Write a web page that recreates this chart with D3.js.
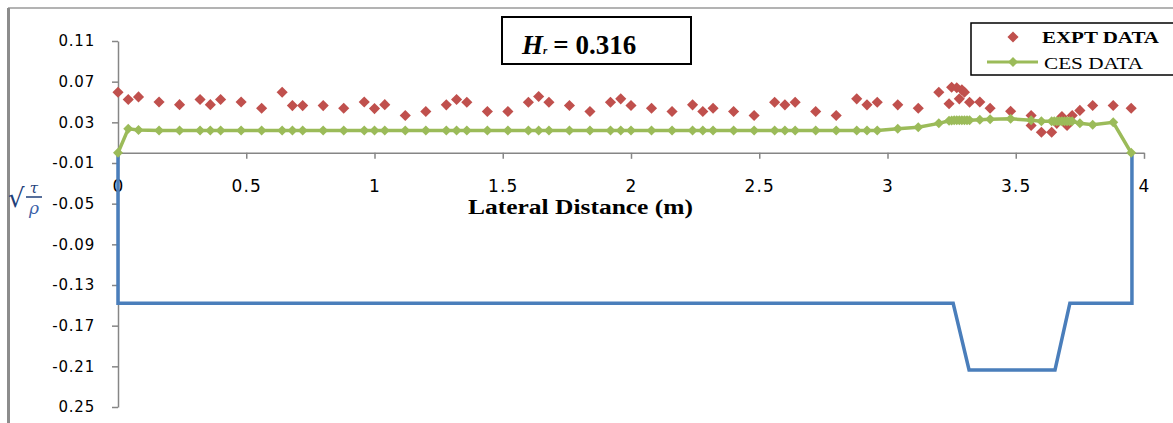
<!DOCTYPE html>
<html>
<head>
<meta charset="utf-8">
<script src="https://cdn.jsdelivr.net/npm/d3@7"></script>
<style>
  body { margin: 0; background: #fff; }
  .axis path, .axis line { stroke: #868686; stroke-width: 1.5px; }
  .axis text { fill: #000; font-family: "DejaVu Sans", sans-serif; }
</style>
</head>
<body>
<svg id="chart"></svg>
<script>
// experimental values (red diamonds)
var exptX = [0, 0.04, 0.08, 0.16, 0.24, 0.32, 0.36, 0.40, 0.48, 0.56, 0.64, 0.68, 0.72, 0.80, 0.88, 0.96, 1.00, 1.04,
  1.12, 1.20, 1.28, 1.32, 1.36, 1.44, 1.52, 1.60, 1.64, 1.68, 1.76, 1.84, 1.92, 1.96, 2.00, 2.08, 2.16, 2.24,
  2.28, 2.32, 2.40, 2.48, 2.56, 2.60, 2.64, 2.72, 2.80, 2.88, 2.92, 2.96, 3.04, 3.12, 3.20, 3.24, 3.25, 3.27,
  3.28, 3.29, 3.30, 3.32, 3.36, 3.40, 3.48, 3.56, 3.56, 3.60, 3.64, 3.66, 3.68, 3.70, 3.72, 3.75, 3.80, 3.88, 3.95];
var exptY = [0.0596, 0.0525, 0.055, 0.050, 0.0474, 0.0525, 0.0474, 0.0525, 0.050, 0.0439, 0.0596, 0.0465, 0.0465, 0.0465, 0.0439, 0.050, 0.0435, 0.0474,
  0.0367, 0.0406, 0.0472, 0.0525, 0.0498, 0.0406, 0.0406, 0.0498, 0.0554, 0.0498, 0.0466, 0.0406, 0.0498, 0.0531, 0.0466, 0.0439, 0.0406, 0.0472,
  0.0406, 0.0439, 0.0406, 0.0367, 0.0498, 0.0472, 0.0498, 0.0406, 0.0367, 0.0531, 0.0472, 0.0498, 0.0472, 0.0439, 0.0596, 0.0483, 0.0645, 0.064,
  0.0531, 0.062, 0.0596, 0.0498, 0.050, 0.0439, 0.0409, 0.0367, 0.0269, 0.0203, 0.0203, 0.029, 0.0357, 0.0269, 0.0367, 0.0417, 0.0466, 0.0466, 0.0439];

// CES model values (green line)
var cesX = [0, 0.04, 0.08, 0.16, 0.24, 0.32, 0.36, 0.40, 0.48, 0.56, 0.64, 0.68, 0.72, 0.80, 0.88, 0.96, 1.00, 1.04,
  1.12, 1.20, 1.28, 1.32, 1.36, 1.44, 1.52, 1.60, 1.64, 1.68, 1.76, 1.84, 1.92, 1.96, 2.00, 2.08, 2.16, 2.24,
  2.28, 2.32, 2.40, 2.48, 2.56, 2.60, 2.64, 2.72, 2.80, 2.88, 2.92, 2.96, 3.04, 3.12, 3.20, 3.24, 3.25, 3.26,
  3.27, 3.28, 3.29, 3.30, 3.31, 3.32, 3.36, 3.40, 3.48, 3.56, 3.60, 3.64, 3.65, 3.66, 3.67, 3.68, 3.69, 3.70,
  3.71, 3.72, 3.75, 3.80, 3.88, 3.95];
var cesY = [0, 0.0236, 0.0225, 0.022, 0.022, 0.022, 0.022, 0.022, 0.022, 0.022, 0.022, 0.022, 0.022, 0.022, 0.022, 0.022, 0.022, 0.022,
  0.022, 0.022, 0.022, 0.022, 0.022, 0.022, 0.022, 0.022, 0.022, 0.022, 0.022, 0.022, 0.022, 0.022, 0.022, 0.022, 0.022, 0.022,
  0.022, 0.022, 0.022, 0.022, 0.022, 0.022, 0.022, 0.022, 0.022, 0.022, 0.022, 0.022, 0.0236, 0.0252, 0.029, 0.0315, 0.0318, 0.032,
  0.032, 0.032, 0.032, 0.032, 0.032, 0.032, 0.0325, 0.033, 0.0335, 0.032, 0.031, 0.031, 0.031, 0.031, 0.031, 0.031, 0.031, 0.031,
  0.031, 0.031, 0.029, 0.0277, 0.030, 0];

// channel cross section (blue outline)
var bedX = [0, 0, 3.256, 3.318, 3.653, 3.711, 3.953, 3.953];
var bedY = [0, -0.148, -0.148, -0.2136, -0.2136, -0.148, -0.148, 0];

var xTicks = [0, 0.5, 1, 1.5, 2, 2.5, 3, 3.5, 4];
var xTickLabels = ["0", "0.5", "1", "1.5", "2", "2.5", "3", "3.5", "4"];
var yTicks = [0.11, 0.07, 0.03, -0.01, -0.05, -0.09, -0.13, -0.17, -0.21, -0.25];
var yTickLabels = ["0.11", "0.07", "0.03", "-0.01", "-0.05", "-0.09", "-0.13", "-0.17", "-0.21", "0.25"];

var width = 1173;
var height = 423;
var svg = d3.select('#chart').attr('width', width).attr('height', height);

var x = d3.scaleLinear().domain([0, 4]).range([118, 1144]);
var y = d3.scaleLinear().domain([-0.25, 0.11]).range([407, 41]);

// outer frame (top and left edges only are visible)
svg.append('line').attr('x1', 8).attr('y1', 8).attr('x2', width).attr('y2', 8)
  .attr('stroke', '#9a9a9a').attr('stroke-width', 1.3);
svg.append('line').attr('x1', 8.5).attr('y1', 8).attr('x2', 8.5).attr('y2', height)
  .attr('stroke', '#8c8c8c').attr('stroke-width', 3);

// axes
var yAxis = d3.axisLeft(y).tickValues(yTicks)
  .tickFormat(function(d, i){ return yTickLabels[i]; })
  .tickSize(6).tickSizeOuter(0).tickPadding(17);
svg.append('g').attr('class', 'axis').attr('transform', 'translate(118,0)').call(yAxis)
  .selectAll('text').style('font-size', '15px').style('letter-spacing', '0.8px');

var xAxis = d3.axisBottom(x).tickValues(xTicks)
  .tickFormat(function(d, i){ return xTickLabels[i]; })
  .tickSize(6).tickSizeOuter(0).tickPadding(21);
svg.append('g').attr('class', 'axis').attr('transform', 'translate(0,' + y(0) + ')').call(xAxis)
  .selectAll('text').style('font-size', '17px').style('letter-spacing', '1.2px');

// blue cross-section
var bed = bedX.map(function(d, i){ return {x: d, y: bedY[i]}; });
var line = d3.line().x(function(d){ return x(d.x); }).y(function(d){ return y(d.y); });
svg.append('path').datum(bed)
  .attr('d', line).attr('fill', 'none')
  .attr('stroke', '#4a7ebb').attr('stroke-width', 3.5).attr('stroke-linejoin', 'miter');

var diamond = d3.symbol().type(d3.symbolSquare);

// experimental points
var expt = exptX.map(function(d, i){ return {x: d, y: exptY[i]}; });
svg.append('g').selectAll('path').data(expt).enter().append('path')
  .attr('d', diamond.size(62))
  .attr('transform', function(d){ return 'translate(' + x(d.x) + ',' + y(d.y) + ') rotate(45)'; })
  .attr('fill', '#c0504d');

// CES line + markers
var ces = cesX.map(function(d, i){ return {x: d, y: cesY[i]}; });
svg.append('path').datum(ces)
  .attr('d', line).attr('fill', 'none')
  .attr('stroke', '#9bbb59').attr('stroke-width', 3.5);
svg.append('g').selectAll('path').data(ces).enter().append('path')
  .attr('d', diamond.size(50))
  .attr('transform', function(d){ return 'translate(' + x(d.x) + ',' + y(d.y) + ') rotate(45)'; })
  .attr('fill', '#9bbb59');

// x axis title
svg.append('text').attr('x', 468).attr('y', 214)
  .attr('textLength', 225).attr('lengthAdjust', 'spacingAndGlyphs')
  .style('font-family', '"Liberation Serif", serif').style('font-weight', 'bold').style('font-size', '20px')
  .text('Lateral Distance (m)');

// y axis title: sqrt(tau / rho)
var yt = svg.append('g').attr('fill', '#1f3f7a').style('font-family', '"DejaVu Serif", serif');
yt.append('text').attr('x', 8).attr('y', 207).style('font-size', '26px').text('√');
yt.append('line').attr('x1', 26).attr('x2', 42).attr('y1', 197).attr('y2', 197)
  .attr('stroke', '#1f3f7a').attr('stroke-width', 1.5);
yt.append('text').attr('x', 34).attr('y', 193).attr('text-anchor', 'middle')
  .style('font-size', '15px').style('font-style', 'italic').text('τ');
yt.append('text').attr('x', 34).attr('y', 214).attr('text-anchor', 'middle')
  .style('font-size', '17px').style('font-style', 'italic').attr('fill', '#3a5fa8').text('ρ');

// annotation box
svg.append('rect').attr('x', 502).attr('y', 17).attr('width', 189).attr('height', 47)
  .attr('fill', '#fff').attr('stroke', '#000').attr('stroke-width', 2);
var ann = svg.append('text').attr('x', 522).attr('y', 54)
  .style('font-family', '"Liberation Serif", serif').style('font-weight', 'bold').style('font-size', '27px');
ann.append('tspan').style('font-style', 'italic').text('H');
ann.append('tspan').style('font-style', 'italic').style('font-size', '11px').text('r');
ann.append('tspan').attr('dx', 6).text('= 0.316');

// legend
var lg = svg.append('g');
lg.append('rect').attr('x', 971).attr('y', 23).attr('width', 210).attr('height', 52)
  .attr('fill', '#fff').attr('stroke', '#000').attr('stroke-width', 1.5);
lg.append('path').attr('d', diamond.size(62))
  .attr('transform', 'translate(1013,37) rotate(45)').attr('fill', '#c0504d');
lg.append('text').attr('x', 1042).attr('y', 43).attr('textLength', 117).attr('lengthAdjust', 'spacingAndGlyphs')
  .style('font-family', '"Liberation Serif", serif').style('font-weight', 'bold').style('font-size', '16px')
  .text('EXPT DATA');
lg.append('line').attr('x1', 987).attr('x2', 1038).attr('y1', 62).attr('y2', 62)
  .attr('stroke', '#9bbb59').attr('stroke-width', 3);
lg.append('path').attr('d', diamond.size(50))
  .attr('transform', 'translate(1013,62) rotate(45)').attr('fill', '#9bbb59');
lg.append('text').attr('x', 1044).attr('y', 69).attr('textLength', 99).attr('lengthAdjust', 'spacingAndGlyphs')
  .style('font-family', '"Liberation Serif", serif').style('font-size', '16px')
  .text('CES DATA');
</script>
</body>
</html>
